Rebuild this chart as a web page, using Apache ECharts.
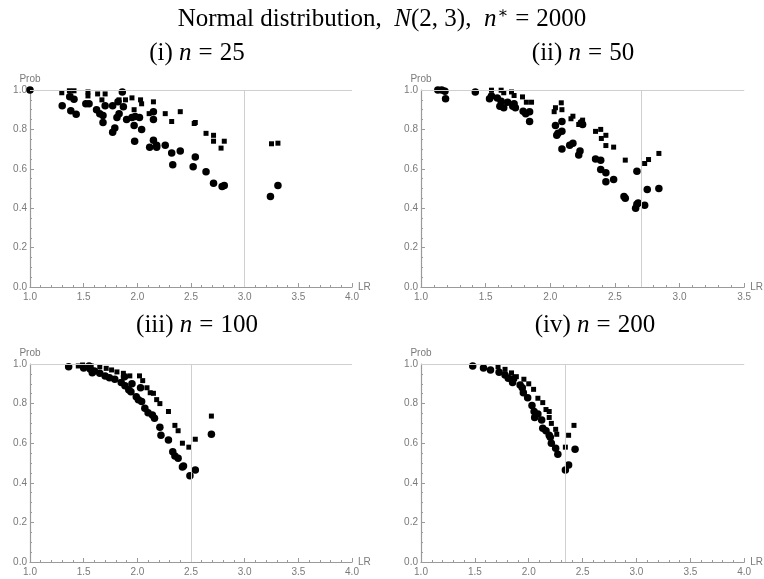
<!DOCTYPE html>
<html>
<head>
<meta charset="utf-8">
<script src="https://cdn.jsdelivr.net/npm/echarts@6/dist/echarts.min.js"></script>
<style>html,body{margin:0;padding:0;background:#fff}#c{width:764px;height:579px}</style>
</head>
<body>
<div id="c"></div>
<script>
// ---- data ----
const panelTitles = ['(i)', '(ii)', '(iii)', '(iv)'];
const panelN = ['25', '50', '100', '200'];
const xMax = [4.0, 3.5, 4.0, 4.0];
const vLines = [3.0, 2.7, 2.5, 2.34];

const p1Circles = [[1.0,1.0],[1.30,0.92],[1.38,0.895],[1.43,0.877],[1.37,0.966],[1.41,0.953],[1.52,0.93],[1.55,0.93],[1.62,0.90],[1.65,0.88],[1.68,0.87],[1.68,0.835],[1.77,0.785],[1.79,0.807],[1.70,0.92],[1.77,0.92],[1.82,0.94],[1.86,0.99],[1.83,0.88],[1.81,0.86],[1.90,0.85],[1.95,0.86],[1.98,0.865],[2.02,0.86],[1.97,0.82],[2.04,0.80],[1.87,0.915],[1.975,0.74],[2.115,0.71],[2.15,0.745],[2.18,0.72],[2.26,0.72],[2.18,0.71],[2.40,0.69],[2.32,0.68],[2.33,0.62],[2.15,0.85],[2.15,0.89],[2.54,0.66],[2.52,0.61],[2.64,0.585],[2.71,0.527],[2.79,0.51],[2.81,0.515],[3.31,0.515],[3.24,0.46]];
const p1Squares = [[1.0,1.0],[1.296,0.986],[1.367,0.996],[1.41,0.996],[1.38,0.97],[1.54,0.99],[1.54,0.97],[1.63,0.98],[1.70,0.98],[1.67,0.95],[1.83,0.95],[1.89,0.95],[1.95,0.96],[2.03,0.95],[2.04,0.93],[1.97,0.90],[2.15,0.94],[2.11,0.88],[2.26,0.88],[2.40,0.89],[2.32,0.84],[2.53,0.83],[2.54,0.835],[2.64,0.78],[2.71,0.77],[2.71,0.74],[2.81,0.74],[2.78,0.705],[3.25,0.727],[3.31,0.73]];

const p2Circles = [[1.16,1.0],[1.185,0.994],[1.13,1.0],[1.19,0.955],[1.42,0.99],[1.53,0.955],[1.545,0.97],[1.59,0.96],[1.62,0.943],[1.61,0.918],[1.64,0.91],[1.67,0.938],[1.71,0.918],[1.72,0.93],[1.73,0.91],[1.79,0.892],[1.81,0.88],[1.84,0.889],[1.84,0.84],[2.04,0.82],[2.05,0.77],[2.09,0.79],[2.06,0.78],[2.09,0.84],[2.09,0.70],[2.15,0.72],[2.175,0.73],[2.22,0.67],[2.24,0.834],[2.25,0.825],[2.23,0.69],[2.35,0.65],[2.39,0.644],[2.39,0.596],[2.43,0.58],[2.43,0.534],[2.49,0.546],[2.67,0.588],[2.75,0.495],[2.84,0.50],[2.57,0.46],[2.58,0.45],[2.67,0.42],[2.68,0.427],[2.66,0.40],[2.73,0.415]];
const p2Squares = [[1.17,1.0],[1.545,0.999],[1.62,0.999],[1.64,0.986],[1.70,0.99],[1.72,0.972],[1.785,0.965],[1.815,0.938],[1.855,0.938],[2.03,0.89],[2.085,0.935],[2.04,0.91],[2.09,0.90],[2.16,0.854],[2.175,0.867],[2.22,0.825],[2.25,0.847],[2.35,0.79],[2.39,0.80],[2.395,0.754],[2.43,0.77],[2.43,0.718],[2.49,0.71],[2.58,0.644],[2.73,0.627],[2.76,0.647],[2.84,0.678]];

const p3Circles = [[1.36,0.986],[1.50,0.98],[1.55,0.99],[1.56,0.975],[1.58,0.956],[1.60,0.965],[1.65,0.953],[1.70,0.94],[1.74,0.93],[1.79,0.923],[1.85,0.906],[1.885,0.89],[1.88,0.936],[1.92,0.87],[1.94,0.86],[1.95,0.90],[1.99,0.835],[2.01,0.82],[2.03,0.88],[2.04,0.81],[2.07,0.776],[2.10,0.754],[2.14,0.742],[2.16,0.726],[2.21,0.68],[2.22,0.64],[2.29,0.616],[2.33,0.557],[2.35,0.535],[2.38,0.524],[2.42,0.48],[2.43,0.485],[2.49,0.435],[2.54,0.465],[2.69,0.645]];
const p3Squares = [[1.45,0.99],[1.49,0.995],[1.57,0.99],[1.65,0.986],[1.71,0.978],[1.76,0.97],[1.81,0.96],[1.87,0.953],[1.93,0.94],[2.02,0.94],[2.05,0.916],[2.09,0.88],[2.12,0.855],[2.15,0.852],[2.18,0.82],[2.21,0.80],[2.29,0.76],[2.35,0.69],[2.38,0.663],[2.42,0.60],[2.48,0.58],[2.54,0.62],[2.69,0.737]];

const p4Circles = [[1.48,0.99],[1.58,0.98],[1.645,0.97],[1.725,0.958],[1.78,0.944],[1.81,0.928],[1.85,0.906],[1.86,0.925],[1.92,0.894],[1.94,0.88],[1.95,0.855],[1.99,0.83],[2.03,0.79],[2.05,0.76],[2.055,0.73],[2.085,0.747],[2.12,0.717],[2.13,0.675],[2.16,0.663],[2.19,0.64],[2.20,0.63],[2.21,0.60],[2.25,0.574],[2.27,0.544],[2.43,0.57],[2.37,0.49],[2.34,0.465]];
const p4Squares = [[1.715,0.986],[1.78,0.973],[1.84,0.955],[1.885,0.936],[1.955,0.923],[2.00,0.90],[2.045,0.872],[2.085,0.827],[2.13,0.805],[2.16,0.77],[2.19,0.76],[2.19,0.73],[2.21,0.70],[2.25,0.67],[2.26,0.645],[2.34,0.58],[2.37,0.64],[2.42,0.69]];

const circles = [p1Circles, p2Circles, p3Circles, p4Circles];
const squares = [p1Squares, p2Squares, p3Squares, p4Squares];

// ---- layout ----
const grids = [
  {left: 30, top: 90, width: 322, height: 197},
  {left: 421, top: 90, width: 324, height: 197},
  {left: 30, top: 364, width: 322, height: 198},
  {left: 421, top: 364, width: 324, height: 198}
];
const subPos = [[192, 36], [578, 36], [192, 308], [590, 308]];

const axisGray = '#9a9a9a';
const labelGray = '#7a7a7a';
const serif = 'Liberation Serif, DejaVu Serif, serif';
const FS = 25;
const richStyles = {
  r: {fontFamily: serif, fontSize: FS, fontWeight: 'normal', color: '#000'},
  i: {fontFamily: serif, fontSize: FS, fontStyle: 'italic', fontWeight: 'normal', color: '#000'},
  eq: {fontFamily: serif, fontSize: FS, fontWeight: 'normal', color: '#000', padding: [0, 7, 0, 7]},
  s: {fontFamily: serif, fontSize: 16, fontWeight: 'normal', color: '#000', verticalAlign: 'top', padding: [0, 0, 10, 1]}
};

const titles = [{
  text: '{r|Normal distribution,  }{i|N}{r|(2, 3),  }{i|n}{s|∗}{eq|=}{r|2000}',
  left: 'center', top: 1,
  textStyle: {rich: richStyles, fontWeight: 'normal'}
}];
for (let k = 0; k < 4; k++) {
  titles.push({
    text: '{r|' + panelTitles[k] + ' }{i|n}{eq|=}{r|' + panelN[k] + '}',
    left: subPos[k][0], top: subPos[k][1], textAlign: 'center',
    textStyle: {rich: richStyles, fontWeight: 'normal'}
  });
}

const xAxes = [], yAxes = [], series = [];
for (let k = 0; k < 4; k++) {
  xAxes.push({
    type: 'value', gridIndex: k, min: 1, max: xMax[k], interval: 0.5,
    name: 'LR', nameLocation: 'end', nameGap: 6,
    nameTextStyle: {color: labelGray, fontSize: 10, fontFamily: 'Liberation Sans', padding: [0,0,6,0]},
    axisLine: {show: true, onZero: false, lineStyle: {color: axisGray, width: 1.2}},
    axisTick: {show: true, inside: true, length: 4, lineStyle: {color: axisGray}},
    minorTick: {show: true, splitNumber: 5, length: 2, lineStyle: {color: axisGray}},
    axisLabel: {color: labelGray, fontSize: 10, fontFamily: 'Liberation Sans', margin: 5,
      formatter: v => v.toFixed(1)},
    splitLine: {show: false}
  });
  yAxes.push({
    type: 'value', gridIndex: k, min: 0, max: 1, interval: 0.2,
    name: 'Prob', nameLocation: 'end', nameGap: 6,
    nameTextStyle: {color: labelGray, fontSize: 10, fontFamily: 'Liberation Sans'},
    axisLine: {show: true, onZero: false, lineStyle: {color: axisGray, width: 1.2}},
    axisTick: {show: true, inside: true, length: 4, lineStyle: {color: axisGray}},
    minorTick: {show: true, splitNumber: 4, length: 2, lineStyle: {color: axisGray}},
    axisLabel: {color: labelGray, fontSize: 10, fontFamily: 'Liberation Sans', margin: 3,
      formatter: v => v.toFixed(1)},
    splitLine: {show: false}
  });
  series.push({
    type: 'scatter', xAxisIndex: k, yAxisIndex: k, data: circles[k],
    symbol: 'circle', symbolSize: 7.5, clip: false,
    itemStyle: {color: '#000', opacity: 1},
    markLine: {
      silent: true, symbol: 'none', label: {show: false}, animation: false,
      lineStyle: {color: '#cfcfcf', width: 1, type: 'solid'},
      data: [{yAxis: 1}, [{coord: [vLines[k], 0]}, {coord: [vLines[k], 1]}]]
    },
    z: 3
  });
  series.push({
    type: 'scatter', xAxisIndex: k, yAxisIndex: k, data: squares[k],
    symbol: 'rect', symbolSize: 5, clip: false,
    itemStyle: {color: '#000', opacity: 1}, z: 4
  });
}

const chart = echarts.init(document.getElementById('c'), null, {renderer: 'canvas'});
chart.setOption({
  animation: false,
  backgroundColor: '#fff',
  title: titles,
  grid: grids,
  xAxis: xAxes,
  yAxis: yAxes,
  series: series
});
</script>
</body>
</html>
